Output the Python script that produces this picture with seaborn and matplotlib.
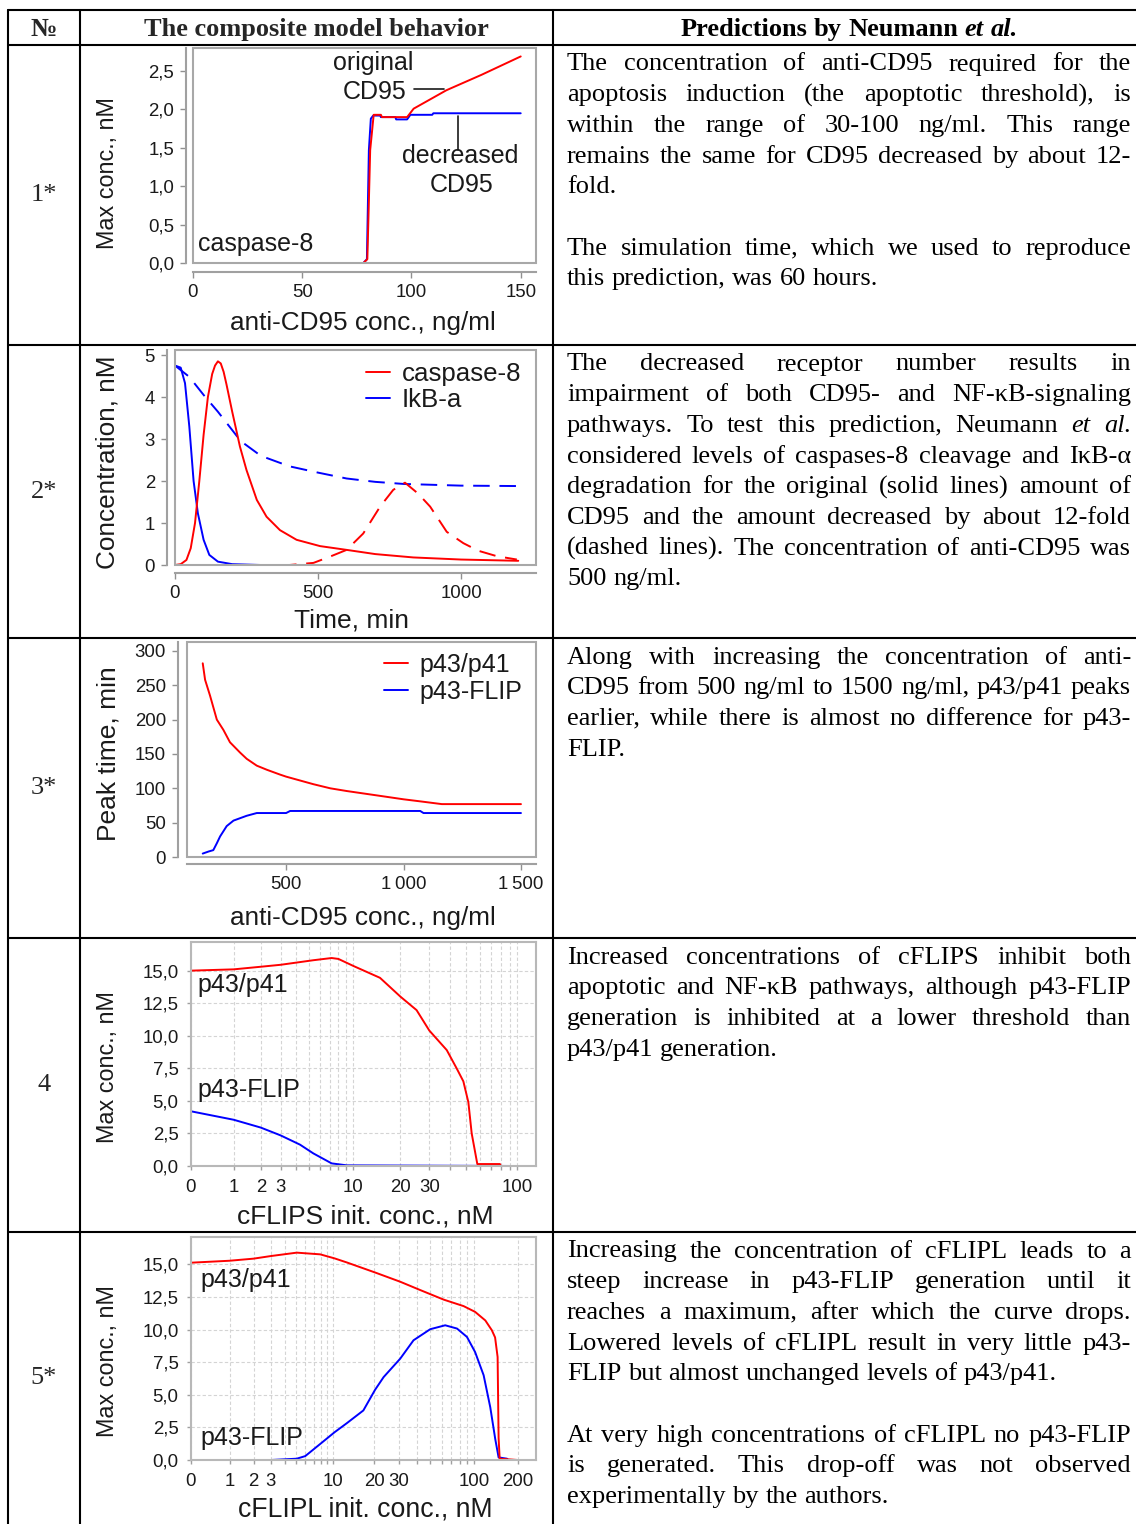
import numpy as np
import matplotlib
matplotlib.use("Agg")
import matplotlib.pyplot as plt
import seaborn as sns
from matplotlib.lines import Line2D
from matplotlib.patches import Rectangle
from matplotlib.ticker import FixedLocator, FuncFormatter, NullFormatter

# ---------------- data ----------------
# row 1: max caspase-8 vs anti-CD95 dose
r1_dose_orig = [0, 78, 79.8, 80.5, 81.1, 82.7, 86.0, 86.5, 98.0, 101, 116, 132, 150]
r1_casp_orig = [0, 0, 0.05, 0.8, 1.47, 1.93, 1.93, 1.90, 1.90, 2.01, 2.25, 2.45, 2.69]
r1_dose_decr = [0, 78, 79.6, 80.5, 81.4, 82.5, 85.7, 86.0, 92.6, 93.0, 98.0, 99.5, 109.5, 110, 150]
r1_casp_decr = [0, 0, 0.05, 1.47, 1.88, 1.92, 1.92, 1.90, 1.90, 1.87, 1.87, 1.93, 1.93, 1.95, 1.95]

# row 2: time courses, solid = original CD95, dashed = decreased CD95
r2_t_casp = [0, 20, 40, 55, 70, 85, 100, 115, 130, 140, 150, 160, 170, 180, 200, 227, 250, 286,
             320, 367, 425, 507, 600, 700, 833, 1000, 1200]
r2_casp = [0, 0.02, 0.12, 0.4, 1.0, 2.0, 3.1, 4.0, 4.55, 4.75, 4.85, 4.8, 4.6, 4.3, 3.65, 2.82,
           2.26, 1.55, 1.15, 0.83, 0.6, 0.45, 0.36, 0.26, 0.18, 0.13, 0.1]
r2_t_casp_low = [0, 400, 484, 542, 600, 658, 717, 763, 804, 850, 892, 950, 1008, 1060, 1125, 1195]
r2_casp_low = [0, 0, 0.05, 0.2, 0.36, 0.75, 1.39, 1.79, 1.96, 1.7, 1.39, 0.79, 0.52, 0.34, 0.21, 0.13]
r2_t_ikb = [0, 20, 35, 50, 65, 80, 100, 120, 150, 200, 300, 1200]
r2_ikb = [4.75, 4.7, 4.33, 3.3, 2.0, 1.23, 0.6, 0.24, 0.08, 0.02, 0.0, 0.0]
r2_t_ikb_low = [0, 50, 100, 150, 230, 300, 400, 500, 600, 700, 800, 1000, 1200]
r2_ikb_low = [4.75, 4.48, 4.05, 3.65, 2.95, 2.6, 2.35, 2.2, 2.06, 1.98, 1.93, 1.89, 1.88]

# row 3: peak time vs anti-CD95 dose
r3_dose_p41 = [145, 155, 176, 205, 233, 261, 304, 332, 375, 418, 474, 500, 616, 688, 759,
               900, 1000, 1071, 1163, 1500]
r3_peak_p41 = [282, 258, 235, 200, 185, 167, 152, 143, 133, 127, 120, 117, 106, 100, 96,
               89, 84, 81, 77, 77]
r3_dose_flip = [145, 170, 190, 205, 219, 247, 276, 332, 375, 500, 517, 1071, 1085, 1500]
r3_peak_flip = [5, 8, 10, 20, 30, 45, 53, 60, 64, 64, 67, 67, 64, 64]

# row 4: max conc vs cFLIPS
r4_flips_p41 = [0, 1, 2, 3, 5.35, 7.2, 8.0, 10.1, 14.9, 20, 25.1, 30, 38.2, 43.8, 48, 51.4,
                53.8, 58.1, 79, 80, 100]
r4_max_p41 = [15.0, 15.1, 15.3, 15.45, 15.8, 15.97, 15.9, 15.35, 14.45, 13.0, 11.97, 10.4,
              8.9, 7.49, 6.5, 4.9, 2.5, 0.15, 0.15, 0.0, 0.0]
r4_flips_flip = [0, 1, 2, 3, 4.27, 5.35, 7.2, 9.1, 100]
r4_max_flip = [4.2, 3.55, 2.95, 2.35, 1.64, 0.97, 0.2, 0.05, 0.0]

# row 5: max conc vs cFLIPL
r5_flipl_p41 = [0, 1, 2, 3, 5.1, 7.9, 10.2, 12.6, 20.3, 30.7, 42.5, 61.8, 85, 102, 120,
                133, 140, 145.7, 148, 150.5, 200]
r5_max_p41 = [15.13, 15.28, 15.44, 15.64, 15.9, 15.77, 15.46, 15.15, 14.38, 13.67, 13.03,
              12.3, 11.8, 11.36, 10.7, 9.95, 9.4, 7.9, 1.7, 0.1, 0.0]
r5_flipl_flip = [0, 3, 5.1, 6.0, 7.9, 10.2, 12.6, 16.7, 20.3, 23.4, 30.7, 38.1, 49.9, 63.4,
                 76.5, 89.6, 102, 116.8, 129.7, 140.4, 148, 169, 172, 200]
r5_max_flip = [0, 0, 0.1, 0.3, 1.23, 2.13, 2.82, 3.8, 5.38, 6.36, 7.77, 9.18, 10.03, 10.33,
               10.08, 9.44, 8.28, 6.5, 4.05, 1.6, 0.2, 0.1, 0.0, 0.0]

# table text
header_cells = ["№", "The composite model behavior"]
header_right = ["Predictions", "by", "Neumann", "*et*", "*al.*"]
row_numbers = ["1*", "2*", "3*", "4", "5*"]
row_paragraphs = [
    [["The concentration of anti-CD95 required for the",
      "apoptosis induction (the apoptotic threshold), is",
      "within the range of 30-100 ng/ml. This range",
      "remains the same for CD95 decreased by about 12-",
      "fold."],
     ["The simulation time, which we used to reproduce",
      "this prediction, was 60 hours."]],
    [["The decreased receptor number results in",
      "impairment of both CD95- and NF-κB-signaling",
      "pathways. To test this prediction, Neumann *et* *al.*",
      "considered levels of caspases-8 cleavage and IκB-α",
      "degradation for the original (solid lines) amount of",
      "CD95 and the amount decreased by about 12-fold",
      "(dashed lines). The concentration of anti-CD95 was",
      "500 ng/ml."]],
    [["Along with increasing the concentration of anti-",
      "CD95 from 500 ng/ml to 1500 ng/ml, p43/p41 peaks",
      "earlier, while there is almost no difference for p43-",
      "FLIP."]],
    [["Increased concentrations of cFLIPS inhibit both",
      "apoptotic and NF-κB pathways, although p43-FLIP",
      "generation is inhibited at a lower threshold than",
      "p43/p41 generation."]],
    [["Increasing the concentration of cFLIPL leads to a",
      "steep increase in p43-FLIP generation until it",
      "reaches a maximum, after which the curve drops.",
      "Lowered levels of cFLIPL result in very little p43-",
      "FLIP but almost unchanged levels of p43/p41."],
     ["At very high concentrations of cFLIPL no p43-FLIP",
      "is generated. This drop-off was not observed",
      "experimentally by the authors."]],
]

# ---------------- figure ----------------
sns.set_theme(style="ticks")
plt.rcParams['font.family'] = ['Liberation Sans', 'DejaVu Sans']

W, H = 1136, 1524
fig = plt.figure(figsize=(W / 100, H / 100), dpi=100)
renderer = fig.canvas.get_renderer()

RED = '#ff0000'
BLUE = '#0000ff'
INK = '#1a1a1a'
LW = 1.4
DASH = (0, (8.5, 5))
CHART_FS = 18
TICK_FS = 13.4


def add_ax(x0, y0, x1, y1):
    # axes box given in reference pixels (top-left origin)
    return fig.add_axes([x0 / W, 1 - y1 / H, (x1 - x0) / W, (y1 - y0) / H])


def comma(v, pos):
    return f"{v:.1f}".replace(".", ",")


def style_detached(ax, left_off, bottom_off):
    # gray frame round the plot area, axis lines pulled away from it
    for side in ('top', 'right'):
        ax.spines[side].set_visible(False)
    ax.spines['left'].set_position(('outward', left_off * 0.72))
    ax.spines['bottom'].set_position(('outward', bottom_off * 0.72))
    for side in ('left', 'bottom'):
        ax.spines[side].set_color('#a0a0a0')
        ax.spines[side].set_linewidth(1.5)
    ax.add_patch(Rectangle((0, 0), 1, 1, transform=ax.transAxes, fill=False,
                           ec='#a8a8a8', lw=1.5, clip_on=False, zorder=5))
    ax.tick_params(axis='both', direction='out', length=4.3, width=1.0, color='#909090',
                   labelsize=TICK_FS, labelcolor=INK, pad=4.3)


def style_grid(ax):
    for side in ax.spines:
        ax.spines[side].set_color('#b8b8b8')
        ax.spines[side].set_linewidth(1.5)
    ax.tick_params(axis='both', which='both', direction='out', length=3, width=1.0,
                   color='#a0a0a0', labelsize=TICK_FS, labelcolor=INK, pad=6)
    ax.grid(True, which='both', axis='x', ls=(0, (3, 2)), color='#d4d4d4', lw=0.8)
    ax.grid(True, which='major', axis='y', ls=(0, (3, 2)), color='#d4d4d4', lw=0.8)


def place_labels(ax, xlabel, ylabel, xpos, ypos, xfs=18.8, yfs=18.8):
    ax.set_xlabel(xlabel, fontsize=xfs, color=INK)
    ax.set_ylabel(ylabel, fontsize=yfs, color=INK)
    ax.xaxis.set_label_coords(*xpos)
    ax.yaxis.set_label_coords(*ypos)
    ax.xaxis.label.set_verticalalignment('center')
    ax.yaxis.label.set_verticalalignment('center')


def log_shift(c):
    return (lambda x: np.log10(np.asarray(x, float) + c),
            lambda y: 10 ** np.asarray(y, float) - c)


# ---- chart 1 ----
ax1 = add_ax(193, 48, 536, 263)
sns.lineplot(x=r1_dose_decr, y=r1_casp_decr, ax=ax1, color=BLUE, lw=LW, estimator=None, sort=False)
sns.lineplot(x=r1_dose_orig, y=r1_casp_orig, ax=ax1, color=RED, lw=LW, estimator=None, sort=False)
ax1.set_xlim(0, 157)
ax1.set_ylim(0, 2.8)
ax1.set_xticks([0, 50, 100, 150])
ax1.set_yticks([0, 0.5, 1.0, 1.5, 2.0, 2.5])
ax1.yaxis.set_major_formatter(FuncFormatter(comma))
style_detached(ax1, 7, 9)
place_labels(ax1, "anti-CD95 conc., ng/ml", "Max conc., nM", (0.496, -0.279), (-0.248, 0.416),
             yfs=16.8)
ax1.text(82.7, 2.6, "original", fontsize=CHART_FS, color=INK, ha='center', va='center')
ax1.text(83.0, 2.23, "CD95", fontsize=CHART_FS, color=INK, ha='center', va='center')
ax1.plot([101, 114.8], [2.26, 2.26], color=INK, lw=1.2)
ax1.text(122.5, 1.39, "decreased", fontsize=CHART_FS, color=INK, ha='center', va='center')
ax1.text(122.8, 1.02, "CD95", fontsize=CHART_FS, color=INK, ha='center', va='center')
ax1.plot([121.4, 121.4], [1.47, 1.91], color=INK, lw=1.2)
ax1.text(2.3, 0.25, "caspase-8", fontsize=CHART_FS, color=INK, ha='left', va='center')

# ---- chart 2 ----
ax2 = add_ax(175, 350, 536, 565)
sns.lineplot(x=r2_t_ikb_low, y=r2_ikb_low, ax=ax2, color=BLUE, lw=LW, linestyle=DASH,
             estimator=None, sort=False)
sns.lineplot(x=r2_t_casp_low, y=r2_casp_low, ax=ax2, color=RED, lw=LW, linestyle=DASH,
             estimator=None, sort=False)
sns.lineplot(x=r2_t_ikb, y=r2_ikb, ax=ax2, color=BLUE, lw=LW, estimator=None, sort=False,
             label="IkB-a")
sns.lineplot(x=r2_t_casp, y=r2_casp, ax=ax2, color=RED, lw=LW, estimator=None, sort=False,
             label="caspase-8")
ax2.set_xlim(0, 1262)
ax2.set_ylim(0, 5.12)
ax2.set_xticks([0, 500, 1000])
ax2.set_yticks([0, 1, 2, 3, 4, 5])
style_detached(ax2, 8, 8)
place_labels(ax2, "Time, min", "Concentration, nM", (0.489, -0.256), (-0.186, 0.477),
             xfs=19, yfs=18.8)
h, l = ax2.get_legend_handles_labels()
ax2.legend(h[::-1], l[::-1], loc='upper right', bbox_to_anchor=(1.01, 1.03), frameon=False,
           fontsize=18.6, handlelength=0.95, handletextpad=0.45, labelspacing=0.1,
           borderpad=0.2, labelcolor=INK)

# ---- chart 3 ----
ax3 = add_ax(187, 642, 536, 857)
sns.lineplot(x=r3_dose_p41, y=r3_peak_p41, ax=ax3, color=RED, lw=LW, estimator=None, sort=False,
             label="p43/p41")
sns.lineplot(x=r3_dose_flip, y=r3_peak_flip, ax=ax3, color=BLUE, lw=LW, estimator=None,
             sort=False, label="p43-FLIP")
ax3.set_xlim(78, 1564)
ax3.set_ylim(0, 313)
ax3.set_xticks([500, 1000, 1500])
ax3.set_yticks([0, 50, 100, 150, 200, 250, 300])
ax3.xaxis.set_major_formatter(FuncFormatter(lambda v, p: f"{int(v):,}".replace(",", "\u2009")))
style_detached(ax3, 9, 7)
place_labels(ax3, "anti-CD95 conc., ng/ml", "Peak time, min", (0.505, -0.284), (-0.226, 0.481),
             yfs=19)
ax3.legend(loc='upper right', bbox_to_anchor=(1.01, 1.03), frameon=False, fontsize=CHART_FS,
           handlelength=0.95, handletextpad=0.45, labelspacing=0.1, borderpad=0.2,
           labelcolor=INK)

# ---- chart 4 ----
ax4 = add_ax(191, 942, 536, 1166)
ax4.set_xscale('function', functions=log_shift(1.3))
sns.lineplot(x=r4_flips_flip, y=r4_max_flip, ax=ax4, color=BLUE, lw=LW, estimator=None, sort=False)
sns.lineplot(x=r4_flips_p41, y=r4_max_p41, ax=ax4, color=RED, lw=LW, estimator=None, sort=False)
ax4.set_xlim(0, 128.7)
ax4.set_ylim(0, 17.2)
ax4.xaxis.set_major_locator(FixedLocator([0, 1, 2, 3, 10, 20, 30, 100]))
ax4.xaxis.set_minor_locator(FixedLocator([4, 5, 6, 7, 8, 9, 40, 50, 60, 70, 80, 90]))
ax4.xaxis.set_major_formatter(FuncFormatter(lambda v, p: f"{v:g}"))
ax4.xaxis.set_minor_formatter(NullFormatter())
ax4.set_yticks([0, 2.5, 5, 7.5, 10, 12.5, 15])
ax4.yaxis.set_major_formatter(FuncFormatter(comma))
style_grid(ax4)
place_labels(ax4, "cFLIPS init. conc., nM", "Max conc., nM", (0.504, -0.226), (-0.241, 0.44),
             xfs=19, yfs=16.8)
ax4.text(0.02, 0.808, "p43/p41", transform=ax4.transAxes, fontsize=CHART_FS, color=INK,
         ha='left', va='center')
ax4.text(0.02, 0.339, "p43-FLIP", transform=ax4.transAxes, fontsize=CHART_FS, color=INK,
         ha='left', va='center')

# ---- chart 5 ----
ax5 = add_ax(191, 1237, 536, 1460)
ax5.set_xscale('function', functions=log_shift(1.2))
sns.lineplot(x=r5_flipl_flip, y=r5_max_flip, ax=ax5, color=BLUE, lw=LW, estimator=None, sort=False)
sns.lineplot(x=r5_flipl_p41, y=r5_max_p41, ax=ax5, color=RED, lw=LW, estimator=None, sort=False)
ax5.set_xlim(0, 267)
ax5.set_ylim(0, 17.1)
ax5.xaxis.set_major_locator(FixedLocator([0, 1, 2, 3, 10, 20, 30, 100, 200]))
ax5.xaxis.set_minor_locator(FixedLocator([4, 5, 6, 7, 8, 9, 40, 50, 60, 70, 80, 90]))
ax5.xaxis.set_major_formatter(FuncFormatter(lambda v, p: f"{v:g}"))
ax5.xaxis.set_minor_formatter(NullFormatter())
ax5.set_yticks([0, 2.5, 5, 7.5, 10, 12.5, 15])
ax5.yaxis.set_major_formatter(FuncFormatter(comma))
style_grid(ax5)
place_labels(ax5, "cFLIPL init. conc., nM", "Max conc., nM", (0.504, -0.224), (-0.241, 0.444),
             xfs=19.2, yfs=16.8)
ax5.text(0.026, 0.807, "p43/p41", transform=ax5.transAxes, fontsize=CHART_FS, color=INK,
         ha='left', va='center')
ax5.text(0.026, 0.097, "p43-FLIP", transform=ax5.transAxes, fontsize=CHART_FS, color=INK,
         ha='left', va='center')

# ---------------- table ----------------
SERIF = ['Liberation Serif', 'DejaVu Serif']
BODY_FS = 19
SPACE = 0.25 * BODY_FS * 100 / 72
LINE_H = 30.7
TXT_X0, TXT_X1 = 567, 1131
row_tops = [45, 345, 638, 938, 1232]
row_bottoms = [345, 638, 938, 1232, 1524]


def rule(x0, y0, x1, y1):
    fig.add_artist(Line2D([x0 / W, x1 / W], [1 - y0 / H, 1 - y1 / H], color='black', lw=1.5,
                          transform=fig.transFigure))


for y in [10, 45] + row_tops[1:]:
    rule(8, y, 1136, y)
for x in [8, 80, 553]:
    rule(x, 10, x, 1524)


def word(token, y, weight='normal'):
    italic = len(token) > 2 and token.startswith('*') and token.endswith('*')
    return fig.text(0, 1 - y / H, token.strip('*') if italic else token, family=SERIF,
                    fontsize=BODY_FS, weight=weight, style='italic' if italic else 'normal',
                    color='black', ha='left', va='baseline')


def set_line(tokens, y, x0, x1=None, weight='normal'):
    arts = [word(t, y, weight) for t in tokens]
    widths = [a.get_window_extent(renderer).width for a in arts]
    gap = SPACE
    if x1 is not None and len(arts) > 1:
        gap = (x1 - x0 - sum(widths)) / (len(arts) - 1)
    x = x0
    for a, w in zip(arts, widths):
        a.set_x(x / W)
        x += w + gap
    return x - gap


# header
fig.text(44 / W, 1 - 35.7 / H, header_cells[0], family=SERIF, fontsize=BODY_FS, weight='bold',
         ha='center', va='baseline')
fig.text(316.5 / W, 1 - 35.7 / H, header_cells[1], family=SERIF, fontsize=BODY_FS,
         weight='bold', ha='center', va='baseline')
end = set_line(header_right, 35.7, 0, weight='bold')
for a in fig.texts[-len(header_right):]:
    a.set_x(a.get_position()[0] + (849 - end / 2) / W)

# body rows
for num, paras, top, bot in zip(row_numbers, row_paragraphs, row_tops, row_bottoms):
    fig.text(44 / W, 1 - (top + bot) / 2 / H, num, family=SERIF, fontsize=BODY_FS,
             ha='center', va='center')
    y = top + 25.5
    for para in paras:
        for i, line in enumerate(para):
            last = i == len(para) - 1
            set_line(line.split(), y, TXT_X0, None if last else TXT_X1)
            y += LINE_H
        y += LINE_H

fig.savefig("out.png", dpi=100)
